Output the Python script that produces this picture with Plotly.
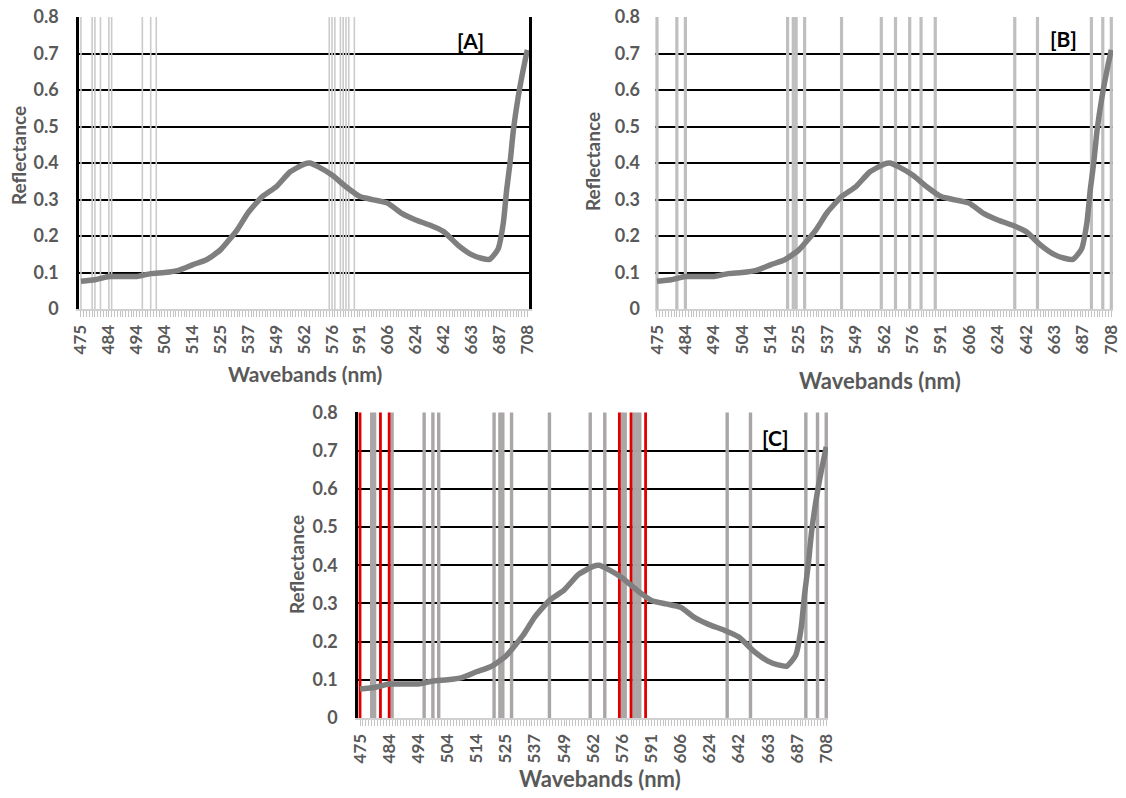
import plotly.graph_objects as go

# ---------------- data ----------------
wave_labels = [475, 484, 494, 504, 514, 525, 537, 549, 562, 576, 591, 606, 624, 642, 663, 687, 708]
bands_per_label = 10  # band index step between labelled wavebands

# reflectance curve (band index, reflectance)
curve_band = [0, 5, 10, 15, 20, 25, 30, 35, 40, 45, 50, 56, 60, 65, 70, 75, 80, 82, 85, 90,
              95, 100, 105, 110, 115, 120, 125, 130, 135, 140, 143.5, 146.5, 149.5, 151.4,
              152.6, 153.8, 155, 156.7, 158.5, 160]
reflectance = [0.076, 0.080, 0.089, 0.089, 0.089, 0.097, 0.100, 0.106, 0.121, 0.135, 0.162,
               0.217, 0.265, 0.308, 0.335, 0.376, 0.397, 0.400, 0.390, 0.367, 0.335, 0.308,
               0.299, 0.290, 0.262, 0.244, 0.230, 0.212, 0.176, 0.149, 0.139, 0.136, 0.164,
               0.236, 0.327, 0.400, 0.490, 0.580, 0.655, 0.710]

# selected bands (band index)
bands_A = [0, 4, 5, 7, 10, 11, 22, 25, 27, 89, 90, 91, 93, 94, 95, 96, 98]
bands_B = [0, 7, 10, 46, 48, 49, 52, 65, 79, 84, 89, 93, 98, 126, 134, 153, 157, 160]
common = sorted(set(bands_A) & set(bands_B))
bands_C_gray = sorted((set(bands_A) | set(bands_B)) - set(common))

y_ticks = [0, 0.1, 0.2, 0.3, 0.4, 0.5, 0.6, 0.7, 0.8]
y_text = ["0", "0.1", "0.2", "0.3", "0.4", "0.5", "0.6", "0.7", "0.8"]
YMAX = 0.8

W, H = 1126, 798
FONT = "Lato, 'Open Sans', sans-serif"
LBL = "#595959"

panels = {
    "A": dict(x=(79, 529), y=(16.5, 309)),
    "B": dict(x=(655, 1113), y=(16.5, 309)),
    "C": dict(x=(358, 828), y=(412, 718)),
}


def px_dom_x(a, b):
    return [a / W, b / W]


def px_dom_y(top, bottom):
    return [1 - bottom / H, 1 - top / H]


def vline_xy(bands):
    xs, ys = [], []
    for b in bands:
        xs += [b, b, None]
        ys += [0, YMAX, None]
    return xs, ys


fig = go.Figure()

axis_ids = {"A": ("x", "y"), "B": ("x2", "y2"), "C": ("x3", "y3")}

line_sets = {
    "A": [(bands_A, "#cbcbcb", 1.6)],
    "B": [(bands_B, "#bfbfbf", 3.2)],
    "C": [(bands_C_gray, "#aaa6a6", 3.4), (common, "#e00000", 2.8)],
}

for key, (xa, ya) in axis_ids.items():
    for bands, col, w in line_sets[key]:
        xs, ys = vline_xy(bands)
        fig.add_trace(go.Scatter(x=xs, y=ys, mode="lines", xaxis=xa, yaxis=ya,
                                 line=dict(color=col, width=w), hoverinfo="skip",
                                 showlegend=False))
    fig.add_trace(go.Scatter(x=curve_band, y=reflectance, mode="lines", xaxis=xa, yaxis=ya,
                             line=dict(color="#7f7f7f", width=5.5, shape="spline", smoothing=0.5),
                             showlegend=False))

tickvals = [i * bands_per_label for i in range(len(wave_labels))]
nb = tickvals[-1]

layout = dict(width=W, height=H, margin=dict(l=0, r=0, t=0, b=0, autoexpand=False),
              paper_bgcolor="white", plot_bgcolor="white", showlegend=False)

for i, key in enumerate(["A", "B", "C"]):
    p = panels[key]
    sx = "" if i == 0 else str(i + 1)
    layout["xaxis" + sx] = dict(
        domain=px_dom_x(*p["x"]), anchor="y" + sx, automargin=False,
        range=[-0.7, nb + 0.6], tickmode="array", tickvals=tickvals,
        ticktext=[str(v) for v in wave_labels], tickangle=-90,
        tickfont=dict(family=FONT, size=17, color=LBL, weight="bold"),
        ticks="outside", ticklen=6, tickcolor="#c4c4c4", tickwidth=1,
        minor=dict(dtick=1, tick0=0, ticks="outside", ticklen=6, tickcolor="#c4c4c4", tickwidth=1),
        showgrid=False, zeroline=False, showline=True, linecolor="#d0d0d0", linewidth=2,
        layer="below traces", ticklabelstandoff=1)
    layout["yaxis" + sx] = dict(
        domain=px_dom_y(*p["y"]), anchor="x" + sx, automargin=False,
        range=[0, YMAX + 0.0015], tickmode="array", tickvals=y_ticks, ticktext=y_text,
        tickfont=dict(family=FONT, size=18, color=LBL, weight="bold"),
        showgrid=True, gridcolor="#000000", gridwidth=1.6, zeroline=False,
        showline=(key != "B"), linecolor="#000000", linewidth=2.5,
        mirror=(key == "A"), ticks="", ticklabelstandoff=14, layer="below traces")

fig.update_layout(**layout)

ann = []
titles = {
    "A": dict(xt=(305, 373, 21), yt=(18, 156, 19), tag=(470, 40)),
    "B": dict(xt=(880, 380, 22), yt=(593, 162, 19), tag=(1063, 38)),
    "C": dict(xt=(600, 778, 22), yt=(296, 565, 19), tag=(775, 437)),
}
for key, t in titles.items():
    x, y, s = t["xt"]
    ann.append(dict(text="Wavebands (nm)", x=x / W, y=1 - y / H, xref="paper", yref="paper",
                    showarrow=False, xanchor="center", yanchor="middle",
                    font=dict(family=FONT, size=s, color=LBL, weight="bold")))
    x, y, s = t["yt"]
    ann.append(dict(text="Reflectance", x=x / W, y=1 - y / H, xref="paper", yref="paper",
                    showarrow=False, xanchor="center", yanchor="middle", textangle=-90,
                    font=dict(family=FONT, size=s, color=LBL, weight="bold")))
    x, y = t["tag"]
    ann.append(dict(text="[" + key + "]", x=x / W, y=1 - y / H, xref="paper", yref="paper",
                    showarrow=False, xanchor="center", yanchor="middle",
                    font=dict(family=FONT, size=21, color="#000000", weight="bold")))
fig.update_layout(annotations=ann)

fig.write_html("out.html", config={"displayModeBar": False},
               post_script="document.body.style.margin='0';")
